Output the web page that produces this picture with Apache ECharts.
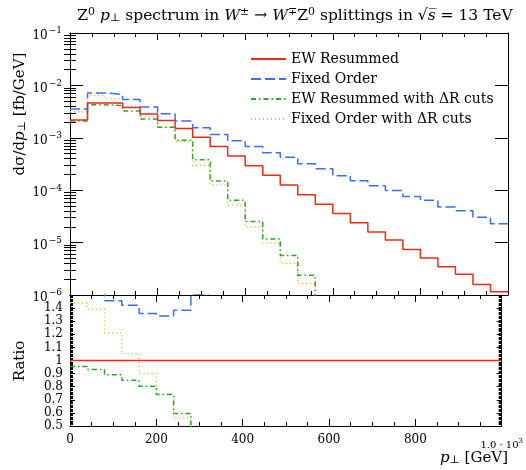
<!DOCTYPE html>
<html>
<head>
<meta charset="utf-8">
<script src="https://cdn.jsdelivr.net/npm/echarts@6/dist/echarts.min.js"></script>
<style>
  html, body { margin: 0; padding: 0; background: #fff; }
  #chart { width: 526px; height: 470px; }
</style>
</head>
<body>
<div id="chart"></div>
<script>
// bin lower edges [GeV], bins are 40 GeV wide
var binLow = [0, 40, 80, 120, 160, 200, 240, 280, 320, 360, 400, 440, 480, 520, 560,
  600, 640, 680, 720, 760, 800, 840, 880, 920, 960]
var xMax = 1000

// dσ/dp⊥ [fb/GeV]
var ewResummed = [2.19e-3, 4.6e-3, 4.6e-3, 3.8e-3, 2.84e-3, 2.15e-3, 1.51e-3, 1.03e-3, 6.85e-4, 4.5e-4,
  2.94e-4, 1.92e-4, 1.26e-4, 8.2e-5, 5.37e-5, 3.6e-5, 2.4e-5, 1.6e-5, 1.12e-5, 7.4e-6,
  5.08e-6, 3.47e-6, 2.5e-6, 1.58e-6, 1.15e-6]
var fixedOrder = [3.55e-3, 7.2e-3, 6.7e-3, 5.4e-3, 3.86e-3, 2.88e-3, 2.09e-3, 1.55e-3, 1.16e-3, 8.8e-4,
  6.85e-4, 5.2e-4, 4.25e-4, 3.2e-4, 2.57e-4, 1.89e-4, 1.51e-4, 1.22e-4, 9.9e-5, 7.6e-5,
  6.4e-5, 4.8e-5, 4.07e-5, 3.03e-5, 2.3e-5]
var ewResummedDR = [2.09e-3, 4.28e-3, 4.1e-3, 3.23e-3, 2.28e-3, 1.59e-3, 9.0e-4, 3.82e-4, 1.5e-4, 6.4e-5,
  2.54e-5, 1.17e-5, 5.7e-6, 2.37e-6, null, null, null, null, null, null,
  null, null, null, null, null]
var fixedOrderDR = [3.15e-3, 6.4e-3, 5.57e-3, 4.0e-3, 2.56e-3, 1.6e-3, 8.5e-4, 2.97e-4, 1.27e-4, 5.2e-5,
  2.0e-5, 9.8e-6, 4.0e-6, 1.66e-6, null, null, null, null, null, null,
  null, null, null, null, null]

var names = ['EW Resummed', 'Fixed Order', 'EW Resummed with ΔR cuts', 'Fixed Order with ΔR cuts']
var colors = ['#ee2a10', '#3a6cff', '#2aa52a', '#ffaa33']
var dashes = ['solid', [10, 4], [5, 3, 1.5, 3], [1, 3]]

var fontFam = 'DejaVu Serif'

// turn bin contents into points for a step line; empty bins drop to the floor
function steps (vals, floor) {
  var pts = []
  for (var i = 0; i < vals.length; i++) {
    if (vals[i] == null) {
      pts.push([binLow[i], floor])
      return pts
    }
    pts.push([binLow[i], vals[i]])
  }
  pts.push([xMax, vals[vals.length - 1]])
  return pts
}

function ratio (vals) {
  return vals.map(function (v, i) { return v == null ? null : v / ewResummed[i] })
}

// log minor tick values 2..9 per decade
var minorLog = []
for (var e = -6; e < -1; e++) {
  for (var k = 2; k <= 9; k++) minorLog.push(k * Math.pow(10, e))
}

function logLabel (v) {
  var ex = Math.round(Math.log10(v))
  return '{b|10}{s|' + String(ex).replace('-', '−') + '}'
}

var tickStyle = { color: '#000', width: 1 }
function xAx (grid, pos, labels) {
  return {
    type: 'value', gridIndex: grid, position: pos, min: 0, max: xMax, interval: 200,
    axisLine: { show: true, onZero: false, lineStyle: { color: '#000', width: 1 } },
    axisTick: { show: true, inside: true, length: 7, lineStyle: tickStyle },
    minorTick: { show: true, splitNumber: 4, length: 4, lineStyle: tickStyle },
    splitLine: { show: false },
    axisLabel: labels ? {
      show: true, margin: 8, color: '#000', fontFamily: fontFam, fontSize: 12,
      formatter: function (v) { return v === 1000 ? '{m|1.0 · 10}{ms|3}' : String(v) },
      rich: {
        m: { fontSize: 10, fontFamily: fontFam, color: '#000', padding: [6, 0, 0, 0] },
        ms: { fontSize: 7, fontFamily: fontFam, color: '#000', padding: [0, 0, 2, 0] }
      }
    } : { show: false }
  }
}
function logAx (pos, labels) {
  return {
    type: 'log', logBase: 10, gridIndex: 0, position: pos, min: 1e-6, max: 1e-1,
    axisLine: { show: true, onZero: false, lineStyle: { color: '#000', width: 1 } },
    axisTick: { show: true, inside: true, length: 13, lineStyle: tickStyle },
    splitLine: { show: false },
    axisLabel: labels ? {
      show: true, margin: 8, color: '#000', formatter: logLabel,
      rich: {
        b: { fontSize: 12, fontFamily: fontFam, color: '#000', padding: [6, 0, 0, 0] },
        s: { fontSize: 9, fontFamily: fontFam, color: '#000', padding: [0, 0, 4, 1] }
      }
    } : { show: false }
  }
}
function logMinorAx (pos) {
  return {
    type: 'log', logBase: 10, gridIndex: 0, position: pos, min: 1e-6, max: 1e-1,
    axisLine: { show: false },
    axisTick: { show: true, inside: true, length: 6, lineStyle: tickStyle, customValues: minorLog },
    splitLine: { show: false },
    axisLabel: { show: false }
  }
}
function ratioAx (pos, labels) {
  return {
    type: 'value', gridIndex: 1, position: pos, min: 0.5, max: 1.5, interval: 0.1,
    axisLine: { show: true, onZero: false, lineStyle: { color: '#000', width: 1 } },
    axisTick: { show: true, inside: true, length: 5, lineStyle: tickStyle },
    minorTick: { show: true, splitNumber: 10, length: 3, lineStyle: tickStyle },
    splitLine: { show: false },
    axisLabel: labels ? {
      show: true, margin: 7, color: '#000', fontFamily: fontFam, fontSize: 12,
      formatter: function (v) {
        var r = Math.round(v * 10) / 10
        if (r >= 1.5) return ''
        return r === 1 ? '1' : r.toFixed(1)
      }
    } : { show: false }
  }
}

var topData = [ewResummed, fixedOrder, ewResummedDR, fixedOrderDR]
var series = []
topData.forEach(function (vals, i) {
  series.push({
    name: names[i], type: 'line', xAxisIndex: 0, yAxisIndex: 0,
    step: 'end', showSymbol: false, symbol: 'none', clip: true, z: 10 - i,
    lineStyle: { color: colors[i], width: 1.5, type: dashes[i] },
    itemStyle: { color: colors[i] },
    data: steps(vals, 1e-8)
  })
})
topData.forEach(function (vals, i) {
  series.push({
    name: names[i], type: 'line', xAxisIndex: 2, yAxisIndex: 4,
    step: 'end', showSymbol: false, symbol: 'none', clip: true, z: 10 - i,
    lineStyle: { color: colors[i], width: 1.5, type: dashes[i] },
    itemStyle: { color: colors[i] },
    data: steps(ratio(vals), 0)
  })
})

var richTitle = {
  n: { fontFamily: fontFam, fontSize: 15.5, color: '#000', fontWeight: 'normal' },
  i: { fontFamily: fontFam, fontSize: 15.5, fontStyle: 'italic', color: '#000', fontWeight: 'normal' },
  sb: { fontFamily: fontFam, fontSize: 11, color: '#000', fontWeight: 'normal', padding: [5, 0, 0, 0] },
  sp: { fontFamily: fontFam, fontSize: 11, color: '#000', fontWeight: 'normal', padding: [0, 0, 7, 0] }
}

var chart = echarts.init(document.getElementById('chart'))
chart.setOption({
  animation: false,
  backgroundColor: '#fff',
  title: {
    left: 290, top: 2, textAlign: 'center',
    text: '{n|Z}{sp|0} {i|p}{sb|⊥}{n| spectrum in }{i|W}{sp|±}{n| → }{i|W}{sp|∓}{n|Z}{sp|0}{n| splittings in √}{i|s̅}{n| = 13 TeV}',
    textStyle: { fontWeight: 'normal', rich: richTitle }
  },
  legend: {
    orient: 'vertical', left: 245, top: 47, itemWidth: 35, itemHeight: 14, itemGap: 6,
    data: names, selectedMode: false,
    itemStyle: { opacity: 0 },
    textStyle: { fontFamily: fontFam, fontSize: 14, color: '#000' }
  },
  grid: [
    { left: 70, right: 18, top: 33, height: 262 },
    { left: 70, right: 18, top: 295, height: 131 }
  ],
  xAxis: [xAx(0, 'bottom', false), xAx(0, 'top', false), xAx(1, 'bottom', true), xAx(1, 'top', false)],
  yAxis: [logAx('left', true), logAx('right', false), logMinorAx('left'), logMinorAx('right'),
    ratioAx('left', true), ratioAx('right', false)],
  graphic: [
    {
      type: 'text', x: 20, y: 114, rotation: Math.PI / 2,
      style: {
        text: '{n|dσ/d}{i|p}{sb|⊥}{n| [fb/GeV]}', align: 'center', verticalAlign: 'middle',
        rich: {
          n: { fontFamily: fontFam, fontSize: 15, color: '#000' },
          i: { fontFamily: fontFam, fontSize: 15, fontStyle: 'italic', color: '#000' },
          sb: { fontFamily: fontFam, fontSize: 11, color: '#000', padding: [5, 0, 0, 0] }
        }
      }
    },
    {
      type: 'text', x: 20, y: 361, rotation: Math.PI / 2,
      style: { text: 'Ratio', align: 'center', verticalAlign: 'middle', fontFamily: fontFam, fontSize: 15, fill: '#000' }
    },
    {
      type: 'text', x: 508, y: 458,
      style: {
        text: '{i|p}{sb|⊥}{n| [GeV]}', align: 'right', verticalAlign: 'middle',
        rich: {
          n: { fontFamily: fontFam, fontSize: 15, color: '#000' },
          i: { fontFamily: fontFam, fontSize: 15, fontStyle: 'italic', color: '#000' },
          sb: { fontFamily: fontFam, fontSize: 11, color: '#000', padding: [5, 0, 0, 0] }
        }
      }
    }
  ],
  series: series
})
</script>
</body>
</html>
